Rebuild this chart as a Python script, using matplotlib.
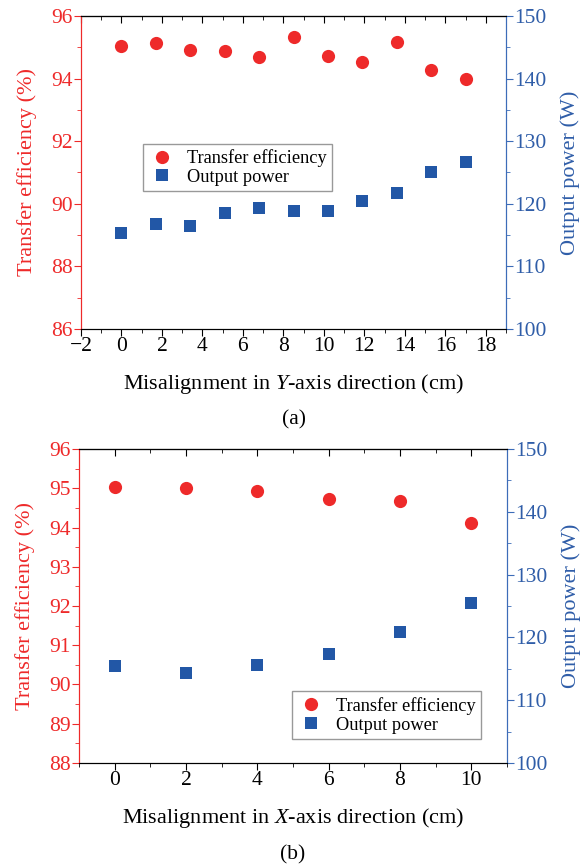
import matplotlib

matplotlib.use('Agg')
import matplotlib.pyplot as plt
from matplotlib.ticker import MultipleLocator

plt.rcParams['font.family'] = ['Liberation Serif', 'DejaVu Serif']
plt.rcParams['mathtext.fontset'] = 'custom'
plt.rcParams['mathtext.it'] = 'Liberation Serif:italic'
plt.rcParams['mathtext.rm'] = 'Liberation Serif'

RED = '#ee2a2a'
BLUE = '#2257a6'
BLUE_AX = '#3c6cb8'

# (a) Y-axis misalignment
ya_pos = [0, 1.7, 3.4, 5.1, 6.8, 8.5, 10.2, 11.9, 13.6, 15.3, 17.0]
ya_eff = [95.03, 95.15, 94.90, 94.88, 94.70, 95.34, 94.71, 94.53, 95.16, 94.27, 94.00]
ya_pow = [115.3, 116.8, 116.4, 118.6, 119.3, 118.9, 118.9, 120.4, 121.8, 125.1, 126.7]

# (b) X-axis misalignment
xb_pos = [0, 2, 4, 6, 8, 10]
xb_eff = [95.02, 95.00, 94.94, 94.73, 94.67, 94.12]
xb_pow = [115.4, 114.4, 115.6, 117.4, 120.9, 125.4]

fig = plt.figure(figsize=(5.85, 8.68), dpi=100)


def panel(rect, x, eff, pw, xlim, ylim, ymaj, ymin, xlabel, cap, leg_loc, leg_anchor):
    ax = fig.add_axes(rect)
    ax2 = ax.twinx()
    ax.plot(x, eff, 'o', color=RED, markersize=9.5, markeredgewidth=0, label='Transfer efficiency')
    ax2.plot(x, pw, 's', color=BLUE, markersize=9, markeredgewidth=0, label='Output power')
    ax.set_xlim(*xlim)
    ax.set_ylim(*ylim)
    ax2.set_ylim(100, 150)
    ax.yaxis.set_major_locator(MultipleLocator(ymaj))
    ax.yaxis.set_minor_locator(MultipleLocator(ymin))
    ax.xaxis.set_major_locator(MultipleLocator(2))
    ax.xaxis.set_minor_locator(MultipleLocator(1))
    ax2.yaxis.set_major_locator(MultipleLocator(10))
    ax2.yaxis.set_minor_locator(MultipleLocator(5))

    for a in (ax, ax2):
        a.spines['left'].set_color(RED)
        a.spines['right'].set_color(BLUE_AX)
        a.spines['top'].set_color('black')
        a.spines['bottom'].set_color('black')
    ax.tick_params(axis='y', which='both', direction='out', colors=RED, labelsize=15.5, pad=1)
    ax.tick_params(axis='y', which='major', length=5)
    ax.tick_params(axis='y', which='minor', length=3)
    ax.tick_params(axis='x', which='both', direction='out', labelsize=15.5, pad=1, top=False)
    ax.tick_params(axis='x', which='major', length=5)
    ax.tick_params(axis='x', which='minor', length=3)
    ax2.tick_params(axis='y', which='both', direction='out', colors=BLUE_AX, labelsize=15.5, pad=1)
    ax2.tick_params(axis='y', which='major', length=5)
    ax2.tick_params(axis='y', which='minor', length=3)
    for lbl in ax2.get_yticklabels():
        lbl.set_color('#2f5da8')

    # top ticks pointing inward
    top = ax.secondary_xaxis('top')
    top.xaxis.set_major_locator(MultipleLocator(2))
    top.xaxis.set_minor_locator(MultipleLocator(1))
    top.tick_params(which='both', direction='in', labeltop=False)
    top.tick_params(which='major', length=5)
    top.tick_params(which='minor', length=3)

    ax.set_ylabel('Transfer efficiency (%)', color=RED, fontsize=16, labelpad=10)
    ax2.set_ylabel('Output power (W)', color='#2f5da8', fontsize=16, labelpad=10)
    ax.set_xlabel(xlabel, fontsize=16, labelpad=11)

    h1, l1 = ax.get_legend_handles_labels()
    h2, l2 = ax2.get_legend_handles_labels()
    leg = ax2.legend(h1 + h2, l1 + l2, loc=leg_loc, bbox_to_anchor=leg_anchor,
                     borderaxespad=0, fontsize=13.2, fancybox=False, framealpha=1,
                     edgecolor='#999999', handletextpad=0.6, borderpad=0.3,
                     labelspacing=0.1, handlelength=1.5)
    leg.get_frame().set_linewidth(1.0)
    fig.text(rect[0] + rect[2] / 2, cap, '(' + 'ab'[0 if xlim[0] == -2 else 1] + ')',
             ha='center', va='center', fontsize=15.5)
    return ax


panel([0.1385, 0.621, 0.7265, 0.3606], ya_pos, ya_eff, ya_pow, (-2, 19), (86, 96), 2, 1,
      'Misalignment in $\\mathit{Y}$-axis direction (cm)', 1 - 420 / 868,
      'lower left', (0.146, 0.44))
panel([0.135, 0.121, 0.7316, 0.3617], xb_pos, xb_eff, xb_pow, (-1, 11), (88, 96), 1, 0.5,
      'Misalignment in $\\mathit{X}$-axis direction (cm)', 1 - 855 / 868,
      'lower right', (0.94, 0.076))

fig.savefig('out.png', dpi=100)
plt.close(fig)
